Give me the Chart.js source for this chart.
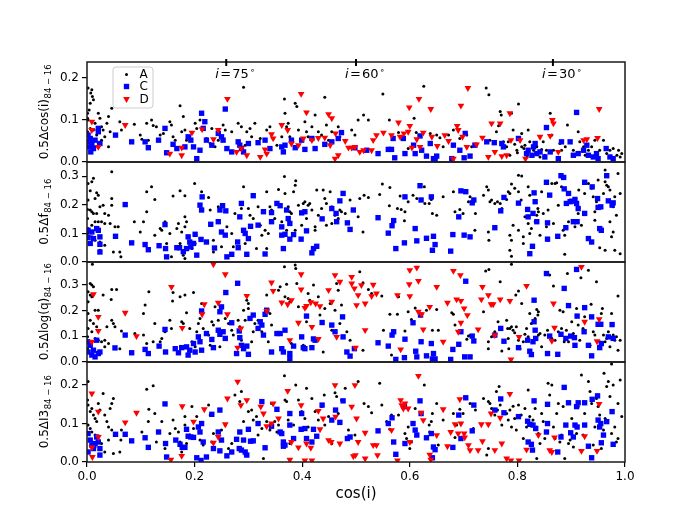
<!DOCTYPE html>
<html>
<head>
<meta charset="utf-8">
<script src="https://cdn.jsdelivr.net/npm/chart.js@4.4.1/dist/chart.umd.min.js"></script>
<style>
html,body{margin:0;padding:0;background:#fff;}
canvas{display:block;}
</style>
</head>
<body>
<canvas id="c" width="692" height="519"></canvas>
<script>
// ---------- DATA ----------
const seriesNames = ['A', 'C', 'D'];
const xTicks = [0.0, 0.2, 0.4, 0.6, 0.8, 1.0];
const yMax = [0.238, 0.35, 0.39, 0.26];
const yTitleMain = ['0.5Δcos(i)', '0.5Δf', '0.5Δlog(q)', '0.5ΔI3'];
const yTitleSub = '84 − 16';
const incAngles = [75, 60, 30];

// Panel 1: 0.5Δcos(i)
const cosA = [[0.002,0.176],[0.009,0.172],[0.007,0.164],[0.010,0.156],[0.012,0.148],[0.006,0.140],[0.004,0.124],[0.001,0.116],[0.001,0.104],[0.002,0.100],[0.009,0.096],[0.015,0.092],[0.021,0.116],[0.024,0.104],[0.027,0.084],[0.030,0.076],[0.033,0.060],[0.037,0.092],[0.040,0.108],[0.046,0.128],[0.043,0.072],[0.027,0.052],[0.021,0.044],[0.015,0.036],[0.040,0.036],[0.018,0.064],[0.012,0.076],[0.006,0.080],[0.001,0.072],[0.001,0.052],[0.061,0.096],[0.064,0.076],[0.088,0.090],[0.099,0.064],[0.102,0.054],[0.111,0.092],[0.114,0.052],[0.120,0.100],[0.123,0.087],[0.129,0.084],[0.136,0.064],[0.142,0.068],[0.154,0.096],[0.157,0.088],[0.160,0.060],[0.164,0.052],[0.173,0.134],[0.176,0.072],[0.182,0.076],[0.179,0.108],[0.185,0.052],[0.191,0.060],[0.201,0.092],[0.204,0.080],[0.210,0.100],[0.219,0.096],[0.222,0.056],[0.229,0.044],[0.232,0.080],[0.238,0.036],[0.244,0.052],[0.250,0.060],[0.253,0.088],[0.257,0.076],[0.269,0.072],[0.281,0.092],[0.287,0.084],[0.291,0.178],[0.294,0.040],[0.297,0.072],[0.303,0.080],[0.306,0.060],[0.312,0.092],[0.322,0.056],[0.334,0.076],[0.340,0.084],[0.346,0.056],[0.353,0.040],[0.362,0.060],[0.367,0.150],[0.368,0.116],[0.371,0.084],[0.374,0.092],[0.377,0.060],[0.387,0.140],[0.390,0.132],[0.393,0.076],[0.405,0.096],[0.408,0.072],[0.411,0.060],[0.418,0.084],[0.424,0.112],[0.430,0.072],[0.436,0.064],[0.442,0.154],[0.445,0.088],[0.449,0.052],[0.455,0.072],[0.467,0.084],[0.470,0.060],[0.480,0.052],[0.492,0.076],[0.498,0.064],[0.504,0.100],
[0.514,0.112],[0.523,0.100],[0.550,0.162],[0.562,0.100],[0.579,0.070],[0.585,0.056],[0.597,0.032],[0.608,0.104],[0.612,0.070],[0.626,0.180],[0.638,0.068],[0.650,0.064],[0.656,0.058],[0.662,0.036],[0.672,0.064],[0.681,0.076],[0.693,0.056],[0.706,0.064],[0.715,0.036],[0.724,0.042],[0.742,0.176],[0.747,0.160],[0.749,0.052],[0.761,0.072],[0.765,0.086],[0.768,0.120],[0.770,0.112],[0.774,0.048],[0.780,0.036],[0.789,0.116],[0.792,0.076],[0.783,0.048],[0.802,0.138],[0.808,0.068],[0.786,0.016],[0.799,0.028],[0.808,0.036],[0.814,0.040],[0.820,0.076],[0.823,0.048],[0.830,0.028],[0.836,0.036],[0.842,0.012],[0.848,0.048],[0.851,0.016],[0.854,0.028],[0.861,0.116],[0.864,0.064],[0.867,0.028],[0.879,0.044],[0.882,0.028],[0.889,0.036],[0.893,0.088],[0.904,0.028],[0.913,0.072],[0.916,0.048],[0.923,0.036],[0.926,0.016],[0.932,0.028],[0.938,0.036],[0.944,0.052],[0.953,0.028],[0.960,0.052],[0.966,0.020],[0.972,0.028],[0.978,0.032],[0.985,0.016],[0.988,0.028],[0.991,0.012],[0.994,0.020],[0.800,0.022],[0.812,0.032],[0.818,0.012],[0.795,0.042],[0.845,0.030]];
const cosC = [[0.002,0.064],[0.006,0.056],[0.001,0.048],[0.009,0.044],[0.004,0.036],[0.012,0.032],[0.015,0.052],[0.021,0.072],[0.024,0.044],[0.007,0.024],[0.021,0.080],[0.053,0.064],[0.083,0.048],[0.108,0.048],[0.114,0.034],[0.133,0.052],[0.145,0.080],[0.148,0.022],[0.160,0.042],[0.167,0.032],[0.182,0.036],[0.188,0.060],[0.193,0.052],[0.198,0.036],[0.204,0.008],[0.210,0.028],[0.213,0.116],[0.219,0.096],[0.216,0.080],[0.222,0.052],[0.232,0.040],[0.244,0.068],[0.250,0.060],[0.257,0.126],[0.253,0.052],[0.260,0.032],[0.269,0.024],[0.281,0.048],[0.284,0.040],[0.287,0.032],[0.291,0.024],[0.300,0.044],[0.318,0.046],[0.331,0.052],[0.340,0.032],[0.362,0.036],[0.365,0.024],[0.368,0.040],[0.380,0.052],[0.387,0.034],[0.399,0.052],[0.405,0.030],[0.418,0.056],[0.424,0.032],[0.442,0.042],[0.455,0.048],[0.467,0.056],[0.473,0.070],[0.498,0.034],
[0.520,0.028],[0.541,0.020],[0.560,0.030],[0.566,0.030],[0.569,0.056],[0.572,0.010],[0.588,0.056],[0.591,0.020],[0.607,0.040],[0.610,0.020],[0.619,0.062],[0.622,0.028],[0.631,0.014],[0.638,0.044],[0.644,0.008],[0.647,0.006],[0.650,0.014],[0.678,0.008],[0.681,0.040],[0.693,0.028],[0.703,0.068],[0.701,0.010],[0.712,0.014],[0.721,0.040],[0.743,0.048],[0.757,0.046],[0.771,0.044],[0.774,0.036],[0.802,0.056],[0.817,0.020],[0.820,0.028],[0.827,0.016],[0.830,0.036],[0.833,0.044],[0.836,0.020],[0.842,0.024],[0.854,0.082],[0.851,0.012],[0.861,0.024],[0.876,0.008],[0.882,0.048],[0.898,0.048],[0.910,0.118],[0.904,0.016],[0.913,0.020],[0.923,0.028],[0.929,0.040],[0.932,0.016],[0.941,0.012],[0.947,0.020],[0.950,0.008],[0.965,0.032],[0.972,0.012],[0.978,0.008]];
const cosD = [[0.009,0.096],[0.009,0.076],[0.021,0.036],[0.071,0.088],[0.154,0.020],[0.176,0.034],[0.176,0.016],[0.195,0.070],[0.214,0.078],[0.235,0.054],[0.244,0.076],[0.261,0.150],[0.278,0.024],[0.287,0.032],[0.297,0.016],[0.322,0.012],[0.331,0.030],[0.334,0.020],[0.343,0.066],[0.346,0.056],[0.362,0.088],[0.373,0.076],[0.380,0.044],[0.393,0.040],[0.398,0.162],[0.402,0.056],[0.408,0.118],[0.418,0.052],[0.430,0.057],[0.442,0.058],[0.449,0.114],[0.452,0.040],[0.455,0.104],[0.462,0.068],[0.461,0.008],[0.467,0.016],[0.480,0.050],[0.486,0.034],[0.492,0.034],[0.498,0.036],
[0.507,0.024],[0.514,0.028],[0.529,0.028],[0.532,0.052],[0.538,0.064],[0.551,0.070],[0.566,0.064],[0.579,0.094],[0.582,0.060],[0.589,0.068],[0.599,0.130],[0.600,0.086],[0.597,0.072],[0.604,0.034],[0.613,0.054],[0.617,0.150],[0.619,0.036],[0.625,0.070],[0.639,0.126],[0.641,0.060],[0.651,0.038],[0.665,0.064],[0.672,0.050],[0.681,0.008],[0.688,0.086],[0.690,0.076],[0.695,0.134],[0.698,0.060],[0.706,0.036],[0.708,0.176],[0.724,0.042],[0.735,0.058],[0.746,0.012],[0.752,0.092],[0.758,0.024],[0.768,0.092],[0.771,0.014],[0.780,0.016],[0.786,0.116],[0.788,0.052],[0.805,0.052],[0.815,0.008],[0.842,0.060],[0.861,0.062],[0.865,0.100],[0.867,0.092],[0.876,0.024],[0.923,0.052],[0.929,0.054],[0.949,0.057],[0.952,0.126]];

// Panel 2: 0.5Δf (no D points)
const fA = [[0.002,0.275],[0.009,0.281],[0.012,0.293],[0.006,0.249],[0.018,0.242],[0.021,0.234],[0.015,0.222],[0.002,0.217],[0.001,0.184],[0.006,0.182],[0.009,0.176],[0.012,0.170],[0.018,0.170],[0.024,0.193],[0.030,0.199],[0.033,0.170],[0.040,0.164],[0.046,0.199],[0.046,0.222],[0.043,0.135],[0.052,0.123],[0.058,0.123],[0.001,0.152],[0.015,0.141],[0.021,0.141],[0.027,0.141],[0.033,0.135],[0.009,0.129],[0.002,0.117],[0.001,0.100],[0.009,0.088],[0.015,0.076],[0.024,0.070],[0.033,0.059],[0.024,0.041],[0.049,0.035],[0.061,0.035],[0.063,0.018],[0.046,0.316],[0.088,0.141],[0.099,0.105],[0.105,0.141],[0.111,0.176],[0.111,0.246],[0.120,0.263],[0.126,0.219],[0.126,0.094],[0.136,0.117],[0.139,0.111],[0.145,0.141],[0.148,0.065],[0.154,0.100],[0.160,0.231],[0.167,0.117],[0.170,0.135],[0.173,0.249],[0.176,0.105],[0.182,0.158],[0.182,0.123],[0.185,0.141],[0.182,0.232],[0.157,0.018],[0.167,0.053],[0.173,0.065],[0.179,0.024],[0.182,0.012],[0.195,0.047],[0.201,0.065],[0.200,0.275],[0.210,0.082],[0.213,0.246],[0.226,0.226],[0.229,0.182],[0.235,0.076],[0.235,0.035],[0.244,0.193],[0.250,0.053],[0.260,0.123],[0.269,0.100],[0.272,0.053],[0.275,0.170],[0.287,0.187],[0.291,0.263],[0.294,0.065],[0.300,0.187],[0.303,0.164],[0.309,0.152],[0.318,0.193],[0.315,0.047],[0.322,0.129],[0.325,0.094],[0.331,0.111],[0.334,0.246],[0.337,0.100],[0.334,0.047],[0.340,0.193],[0.343,0.182],[0.349,0.152],[0.356,0.254],[0.362,0.141],[0.367,0.299],[0.368,0.240],[0.371,0.111],[0.374,0.193],[0.377,0.176],[0.380,0.170],[0.384,0.246],[0.387,0.269],[0.388,0.284],[0.393,0.199],[0.402,0.205],[0.405,0.211],[0.408,0.152],[0.411,0.199],[0.414,0.205],[0.418,0.182],[0.427,0.252],[0.424,0.123],[0.430,0.164],[0.436,0.187],[0.439,0.252],[0.442,0.222],[0.445,0.205],[0.452,0.246],[0.455,0.193],[0.461,0.164],[0.467,0.152],[0.470,0.182],[0.473,0.176],[0.480,0.170],[0.489,0.217],[0.504,0.158],[0.455,0.135],[0.445,0.129],[0.424,0.111],[0.387,0.111],[0.399,0.129],
[0.507,0.222],[0.515,0.234],[0.523,0.226],[0.513,0.105],[0.544,0.236],[0.549,0.273],[0.563,0.261],[0.562,0.197],[0.577,0.187],[0.584,0.184],[0.591,0.176],[0.590,0.144],[0.582,0.231],[0.597,0.211],[0.606,0.234],[0.613,0.222],[0.627,0.263],[0.628,0.205],[0.636,0.205],[0.640,0.219],[0.642,0.170],[0.650,0.164],[0.662,0.228],[0.681,0.246],[0.684,0.176],[0.693,0.184],[0.699,0.170],[0.709,0.211],[0.712,0.228],[0.722,0.170],[0.721,0.111],[0.737,0.234],[0.743,0.263],[0.746,0.252],[0.749,0.211],[0.746,0.105],[0.747,0.076],[0.752,0.217],[0.758,0.205],[0.763,0.211],[0.768,0.205],[0.771,0.187],[0.780,0.219],[0.783,0.246],[0.786,0.240],[0.789,0.273],[0.795,0.258],[0.792,0.129],[0.786,0.094],[0.789,0.076],[0.786,0.041],[0.789,0.020],[0.802,0.304],[0.808,0.301],[0.802,0.246],[0.807,0.217],[0.802,0.111],[0.811,0.088],[0.811,0.065],[0.814,0.158],[0.820,0.263],[0.823,0.234],[0.820,0.135],[0.823,0.100],[0.826,0.117],[0.833,0.141],[0.836,0.164],[0.838,0.187],[0.839,0.176],[0.842,0.094],[0.845,0.246],[0.848,0.170],[0.854,0.123],[0.857,0.182],[0.857,0.076],[0.864,0.275],[0.867,0.135],[0.870,0.275],[0.873,0.277],[0.876,0.199],[0.882,0.263],[0.885,0.111],[0.888,0.094],[0.888,0.027],[0.895,0.141],[0.901,0.211],[0.904,0.141],[0.907,0.123],[0.910,0.141],[0.913,0.170],[0.914,0.252],[0.919,0.129],[0.925,0.240],[0.932,0.275],[0.938,0.258],[0.941,0.228],[0.944,0.176],[0.944,0.146],[0.947,0.211],[0.950,0.287],[0.953,0.050],[0.960,0.240],[0.963,0.041],[0.963,0.281],[0.966,0.269],[0.969,0.263],[0.972,0.252],[0.978,0.193],[0.981,0.228],[0.981,0.041],[0.984,0.164],[0.987,0.310],[0.991,0.240],[0.991,0.029],[0.978,0.105],[0.975,0.088],[0.972,0.141],[0.963,0.322]];
const fC = [[0.002,0.111],[0.009,0.105],[0.018,0.117],[0.021,0.111],[0.002,0.086],[0.012,0.082],[0.024,0.088],[0.006,0.065],[0.024,0.062],[0.024,0.035],[0.071,0.201],[0.053,0.090],[0.083,0.067],[0.108,0.061],[0.114,0.043],[0.134,0.057],[0.145,0.131],[0.146,0.047],[0.148,0.018],[0.167,0.050],[0.172,0.050],[0.179,0.036],[0.185,0.047],[0.188,0.088],[0.191,0.070],[0.193,0.053],[0.201,0.097],[0.198,0.065],[0.204,0.024],[0.212,0.079],[0.213,0.182],[0.210,0.199],[0.214,0.228],[0.222,0.070],[0.230,0.132],[0.237,0.049],[0.244,0.141],[0.247,0.182],[0.250,0.105],[0.252,0.197],[0.257,0.094],[0.260,0.018],[0.258,0.179],[0.269,0.027],[0.280,0.070],[0.281,0.050],[0.284,0.158],[0.287,0.205],[0.291,0.111],[0.294,0.100],[0.297,0.027],[0.300,0.082],[0.304,0.125],[0.309,0.232],[0.318,0.129],[0.328,0.176],[0.331,0.028],[0.343,0.141],[0.343,0.173],[0.353,0.205],[0.359,0.197],[0.362,0.094],[0.362,0.123],[0.365,0.047],[0.368,0.097],[0.371,0.182],[0.374,0.152],[0.377,0.135],[0.384,0.096],[0.399,0.172],[0.405,0.176],[0.408,0.109],[0.418,0.032],[0.421,0.047],[0.427,0.055],[0.437,0.151],[0.455,0.187],[0.464,0.141],[0.463,0.170],[0.470,0.214],[0.476,0.240],[0.484,0.137],[0.489,0.114],[0.495,0.182],[0.398,0.080],[0.377,0.080],
[0.541,0.155],[0.560,0.101],[0.567,0.127],[0.570,0.145],[0.574,0.047],[0.590,0.067],[0.591,0.228],[0.610,0.117],[0.613,0.074],[0.619,0.267],[0.621,0.217],[0.631,0.083],[0.640,0.228],[0.644,0.090],[0.647,0.061],[0.642,0.041],[0.676,0.038],[0.680,0.096],[0.691,0.158],[0.695,0.249],[0.704,0.246],[0.701,0.094],[0.712,0.088],[0.716,0.207],[0.719,0.217],[0.758,0.120],[0.769,0.179],[0.775,0.226],[0.802,0.206],[0.819,0.184],[0.820,0.158],[0.823,0.029],[0.828,0.055],[0.829,0.170],[0.831,0.242],[0.833,0.211],[0.836,0.141],[0.856,0.137],[0.856,0.080],[0.854,0.279],[0.860,0.234],[0.875,0.090],[0.881,0.302],[0.886,0.296],[0.887,0.256],[0.890,0.120],[0.895,0.240],[0.891,0.205],[0.898,0.211],[0.901,0.213],[0.904,0.141],[0.907,0.219],[0.910,0.205],[0.911,0.141],[0.913,0.187],[0.925,0.279],[0.925,0.170],[0.932,0.082],[0.938,0.070],[0.939,0.263],[0.949,0.222],[0.950,0.191],[0.953,0.117],[0.955,0.193],[0.956,0.111],[0.966,0.302],[0.969,0.214],[0.976,0.199],[0.978,0.207]];

// Panel 3: 0.5Δlog(q)
const logqA = [[0.010,0.381],[0.006,0.306],[0.009,0.300],[0.012,0.293],[0.002,0.274],[0.006,0.261],[0.009,0.254],[0.002,0.235],[0.015,0.202],[0.021,0.202],[0.002,0.189],[0.006,0.163],[0.012,0.150],[0.018,0.137],[0.009,0.118],[0.002,0.131],[0.001,0.098],[0.015,0.092],[0.021,0.085],[0.027,0.079],[0.033,0.085],[0.040,0.072],[0.030,0.261],[0.037,0.137],[0.045,0.244],[0.046,0.283],[0.055,0.283],[0.049,0.150],[0.052,0.137],[0.046,0.163],[0.033,0.059],[0.001,0.052],[0.061,0.052],[0.064,0.121],[0.089,0.111],[0.105,0.189],[0.108,0.222],[0.105,0.105],[0.111,0.072],[0.115,0.274],[0.123,0.079],[0.126,0.150],[0.136,0.079],[0.139,0.092],[0.145,0.118],[0.154,0.163],[0.157,0.131],[0.160,0.271],[0.159,0.238],[0.173,0.254],[0.176,0.157],[0.179,0.150],[0.182,0.261],[0.185,0.192],[0.191,0.131],[0.198,0.271],[0.195,0.079],[0.201,0.059],[0.204,0.118],[0.207,0.150],[0.210,0.170],[0.213,0.228],[0.216,0.131],[0.226,0.105],[0.229,0.065],[0.232,0.157],[0.235,0.144],[0.238,0.215],[0.244,0.163],[0.247,0.059],[0.257,0.170],[0.263,0.150],[0.269,0.124],[0.272,0.105],[0.281,0.163],[0.284,0.137],[0.287,0.085],[0.291,0.202],[0.294,0.163],[0.297,0.241],[0.300,0.228],[0.300,0.209],[0.306,0.079],[0.309,0.118],[0.312,0.150],[0.318,0.163],[0.325,0.118],[0.334,0.261],[0.337,0.079],[0.340,0.189],[0.343,0.144],[0.356,0.280],[0.359,0.293],[0.362,0.052],[0.367,0.371],[0.368,0.254],[0.371,0.303],[0.374,0.248],[0.377,0.235],[0.380,0.072],[0.387,0.378],[0.388,0.365],[0.390,0.306],[0.393,0.215],[0.402,0.065],[0.408,0.157],[0.411,0.267],[0.414,0.241],[0.421,0.300],[0.424,0.228],[0.430,0.254],[0.433,0.183],[0.439,0.039],[0.442,0.209],[0.452,0.228],[0.461,0.202],[0.464,0.306],[0.467,0.280],[0.470,0.150],[0.473,0.222],[0.483,0.118],[0.489,0.085],[0.473,0.176],[0.455,0.124],
[0.507,0.352],[0.513,0.309],[0.523,0.283],[0.529,0.267],[0.548,0.257],[0.513,0.046],[0.551,0.124],[0.563,0.186],[0.566,0.027],[0.577,0.186],[0.579,0.254],[0.591,0.121],[0.597,0.196],[0.603,0.166],[0.610,0.211],[0.619,0.186],[0.631,0.202],[0.642,0.124],[0.650,0.205],[0.653,0.124],[0.678,0.192],[0.681,0.186],[0.684,0.144],[0.706,0.089],[0.709,0.101],[0.712,0.103],[0.737,0.196],[0.741,0.355],[0.746,0.079],[0.747,0.361],[0.746,0.052],[0.752,0.098],[0.758,0.118],[0.764,0.157],[0.768,0.313],[0.771,0.043],[0.780,0.163],[0.782,0.131],[0.783,0.092],[0.784,0.052],[0.786,0.131],[0.789,0.137],[0.789,0.381],[0.792,0.124],[0.795,0.114],[0.797,0.261],[0.798,0.137],[0.802,0.277],[0.802,0.085],[0.805,0.052],[0.808,0.228],[0.811,0.079],[0.814,0.108],[0.817,0.131],[0.820,0.098],[0.823,0.189],[0.823,0.046],[0.826,0.150],[0.829,0.079],[0.833,0.170],[0.836,0.205],[0.838,0.183],[0.839,0.196],[0.839,0.105],[0.842,0.111],[0.845,0.059],[0.851,0.105],[0.856,0.124],[0.860,0.339],[0.864,0.092],[0.867,0.296],[0.870,0.085],[0.876,0.118],[0.879,0.202],[0.882,0.131],[0.885,0.196],[0.887,0.079],[0.891,0.124],[0.893,0.345],[0.895,0.079],[0.901,0.157],[0.904,0.111],[0.907,0.098],[0.910,0.209],[0.913,0.144],[0.916,0.085],[0.918,0.329],[0.922,0.131],[0.925,0.176],[0.932,0.358],[0.935,0.065],[0.937,0.225],[0.941,0.118],[0.944,0.105],[0.947,0.313],[0.950,0.144],[0.953,0.079],[0.956,0.189],[0.958,0.209],[0.960,0.105],[0.963,0.079],[0.966,0.092],[0.969,0.118],[0.972,0.059],[0.975,0.189],[0.978,0.105],[0.981,0.085],[0.984,0.098],[0.987,0.257],[0.991,0.085],[0.987,0.046]];
const logqC = [[0.001,0.079],[0.006,0.065],[0.012,0.046],[0.018,0.085],[0.009,0.027],[0.021,0.033],[0.002,0.039],[0.015,0.020],[0.024,0.039],[0.052,0.055],[0.071,0.105],[0.083,0.036],[0.108,0.049],[0.114,0.033],[0.134,0.062],[0.145,0.127],[0.146,0.039],[0.164,0.052],[0.170,0.036],[0.176,0.056],[0.185,0.059],[0.188,0.027],[0.191,0.046],[0.198,0.072],[0.201,0.039],[0.207,0.098],[0.210,0.079],[0.213,0.199],[0.213,0.046],[0.222,0.111],[0.232,0.088],[0.235,0.056],[0.244,0.124],[0.247,0.196],[0.250,0.215],[0.247,0.108],[0.253,0.118],[0.257,0.092],[0.258,0.271],[0.269,0.153],[0.278,0.033],[0.280,0.307],[0.283,0.121],[0.284,0.095],[0.287,0.065],[0.291,0.052],[0.297,0.062],[0.300,0.030],[0.303,0.170],[0.309,0.183],[0.318,0.131],[0.322,0.157],[0.325,0.144],[0.328,0.105],[0.331,0.186],[0.334,0.202],[0.343,0.039],[0.353,0.111],[0.359,0.111],[0.362,0.052],[0.365,0.039],[0.368,0.124],[0.377,0.014],[0.377,0.033],[0.384,0.062],[0.399,0.098],[0.402,0.056],[0.405,0.052],[0.408,0.179],[0.418,0.056],[0.421,0.090],[0.424,0.085],[0.437,0.154],[0.455,0.144],[0.461,0.118],[0.475,0.176],[0.476,0.098],[0.483,0.039],[0.489,0.023],[0.497,0.052],
[0.541,0.075],[0.560,0.062],[0.567,0.105],[0.570,0.118],[0.574,0.010],[0.590,0.017],[0.591,0.089],[0.606,0.153],[0.611,0.042],[0.613,0.020],[0.620,0.183],[0.621,0.079],[0.631,0.024],[0.640,0.072],[0.644,0.033],[0.647,0.012],[0.642,0.012],[0.676,0.010],[0.680,0.049],[0.691,0.069],[0.695,0.118],[0.704,0.315],[0.702,0.020],[0.712,0.020],[0.716,0.101],[0.719,0.082],[0.758,0.105],[0.769,0.131],[0.775,0.081],[0.802,0.056],[0.819,0.085],[0.823,0.042],[0.826,0.029],[0.829,0.079],[0.831,0.157],[0.831,0.241],[0.834,0.092],[0.833,0.124],[0.854,0.345],[0.856,0.033],[0.860,0.101],[0.875,0.030],[0.881,0.108],[0.887,0.287],[0.890,0.092],[0.895,0.220],[0.899,0.101],[0.906,0.095],[0.910,0.361],[0.907,0.065],[0.911,0.179],[0.924,0.118],[0.925,0.212],[0.932,0.065],[0.938,0.176],[0.938,0.024],[0.950,0.147],[0.955,0.147],[0.956,0.072],[0.953,0.056],[0.969,0.098],[0.976,0.146],[0.978,0.092]];
const logqD = [[0.009,0.079],[0.012,0.264],[0.021,0.176],[0.021,0.121],[0.071,0.192],[0.092,0.101],[0.157,0.293],[0.177,0.133],[0.218,0.225],[0.214,0.186],[0.235,0.381],[0.244,0.231],[0.257,0.342],[0.261,0.186],[0.280,0.056],[0.286,0.131],[0.297,0.258],[0.334,0.199],[0.343,0.310],[0.346,0.277],[0.362,0.232],[0.373,0.225],[0.377,0.085],[0.380,0.241],[0.393,0.153],[0.398,0.342],[0.398,0.283],[0.405,0.211],[0.408,0.219],[0.416,0.233],[0.418,0.137],[0.425,0.228],[0.430,0.090],[0.433,0.218],[0.449,0.280],[0.455,0.235],[0.461,0.339],[0.464,0.098],[0.470,0.313],[0.492,0.332],[0.492,0.306],[0.497,0.287],[0.499,0.056],[0.501,0.222],[0.504,0.261],
[0.510,0.300],[0.517,0.228],[0.517,0.124],[0.529,0.257],[0.532,0.301],[0.538,0.267],[0.577,0.261],[0.583,0.049],[0.600,0.358],[0.599,0.303],[0.600,0.257],[0.613,0.368],[0.616,0.316],[0.616,0.196],[0.622,0.186],[0.625,0.127],[0.637,0.215],[0.650,0.293],[0.662,0.079],[0.670,0.231],[0.681,0.355],[0.687,0.244],[0.690,0.118],[0.694,0.339],[0.695,0.238],[0.695,0.153],[0.701,0.209],[0.707,0.183],[0.727,0.127],[0.735,0.293],[0.733,0.244],[0.746,0.261],[0.751,0.225],[0.755,0.225],[0.758,0.105],[0.768,0.244],[0.786,0.238],[0.788,0.010],[0.803,0.098],[0.817,0.297],[0.867,0.228],[0.869,0.134],[0.864,0.082],[0.919,0.371],[0.925,0.157],[0.952,0.167],[0.948,0.081]];

// Panel 4: 0.5ΔI3
const i3A = [[0.002,0.209],[0.001,0.161],[0.002,0.148],[0.009,0.139],[0.006,0.131],[0.012,0.122],[0.015,0.113],[0.018,0.105],[0.002,0.096],[0.006,0.087],[0.009,0.078],[0.015,0.070],[0.021,0.152],[0.024,0.135],[0.030,0.178],[0.033,0.122],[0.037,0.105],[0.040,0.091],[0.043,0.139],[0.046,0.152],[0.049,0.165],[0.046,0.083],[0.052,0.070],[0.040,0.057],[0.027,0.048],[0.015,0.039],[0.033,0.026],[0.049,0.022],[0.061,0.026],[0.063,0.057],[0.064,0.083],[0.102,0.078],[0.111,0.189],[0.114,0.105],[0.115,0.137],[0.123,0.198],[0.126,0.126],[0.129,0.052],[0.139,0.105],[0.145,0.035],[0.148,0.013],[0.154,0.074],[0.160,0.109],[0.164,0.087],[0.170,0.078],[0.173,0.052],[0.176,0.026],[0.182,0.118],[0.182,0.096],[0.185,0.048],[0.191,0.070],[0.195,0.144],[0.198,0.087],[0.204,0.118],[0.210,0.057],[0.216,0.044],[0.226,0.148],[0.229,0.122],[0.232,0.052],[0.235,0.074],[0.244,0.078],[0.250,0.083],[0.257,0.096],[0.263,0.035],[0.269,0.048],[0.275,0.174],[0.284,0.157],[0.287,0.183],[0.291,0.105],[0.294,0.018],[0.300,0.131],[0.306,0.135],[0.309,0.109],[0.315,0.118],[0.318,0.070],[0.325,0.087],[0.328,0.009],[0.331,0.039],[0.334,0.105],[0.340,0.083],[0.343,0.152],[0.349,0.105],[0.353,0.078],[0.356,0.096],[0.367,0.224],[0.368,0.161],[0.371,0.157],[0.374,0.109],[0.377,0.048],[0.384,0.096],[0.388,0.200],[0.393,0.161],[0.399,0.131],[0.405,0.113],[0.408,0.192],[0.411,0.091],[0.418,0.165],[0.424,0.131],[0.430,0.109],[0.436,0.144],[0.441,0.174],[0.442,0.096],[0.449,0.118],[0.455,0.048],[0.461,0.180],[0.464,0.170],[0.467,0.126],[0.473,0.161],[0.480,0.192],[0.486,0.083],[0.492,0.144],[0.498,0.070],[0.504,0.209],
[0.515,0.152],[0.523,0.144],[0.529,0.128],[0.544,0.205],[0.548,0.148],[0.557,0.105],[0.563,0.085],[0.566,0.122],[0.577,0.004],[0.579,0.122],[0.591,0.074],[0.594,0.061],[0.597,0.091],[0.600,0.035],[0.603,0.052],[0.610,0.139],[0.627,0.200],[0.636,0.096],[0.637,0.078],[0.640,0.105],[0.642,0.126],[0.650,0.152],[0.653,0.044],[0.662,0.109],[0.681,0.126],[0.684,0.064],[0.687,0.096],[0.693,0.137],[0.699,0.126],[0.712,0.152],[0.718,0.087],[0.722,0.135],[0.737,0.165],[0.743,0.018],[0.746,0.035],[0.746,0.157],[0.749,0.152],[0.752,0.139],[0.758,0.122],[0.761,0.183],[0.763,0.135],[0.766,0.196],[0.768,0.148],[0.771,0.096],[0.780,0.126],[0.783,0.109],[0.786,0.135],[0.789,0.091],[0.792,0.145],[0.795,0.113],[0.798,0.083],[0.802,0.148],[0.807,0.122],[0.811,0.061],[0.814,0.139],[0.817,0.091],[0.820,0.187],[0.820,0.052],[0.823,0.118],[0.826,0.100],[0.829,0.109],[0.833,0.139],[0.836,0.091],[0.836,0.009],[0.839,0.074],[0.842,0.048],[0.845,0.126],[0.848,0.105],[0.851,0.061],[0.857,0.205],[0.860,0.174],[0.864,0.200],[0.867,0.091],[0.870,0.061],[0.873,0.126],[0.876,0.152],[0.879,0.052],[0.882,0.070],[0.885,0.144],[0.888,0.009],[0.891,0.096],[0.895,0.048],[0.898,0.057],[0.901,0.113],[0.904,0.039],[0.907,0.096],[0.910,0.074],[0.913,0.144],[0.919,0.226],[0.922,0.070],[0.925,0.126],[0.932,0.209],[0.935,0.183],[0.938,0.152],[0.941,0.044],[0.944,0.091],[0.947,0.165],[0.950,0.144],[0.953,0.122],[0.956,0.035],[0.960,0.083],[0.961,0.231],[0.963,0.113],[0.966,0.196],[0.969,0.209],[0.972,0.170],[0.975,0.255],[0.975,0.074],[0.978,0.200],[0.981,0.091],[0.984,0.052],[0.987,0.061],[0.991,0.213],[0.987,0.152],[0.994,0.118]];
const i3C = [[0.002,0.074],[0.006,0.057],[0.009,0.044],[0.012,0.035],[0.002,0.026],[0.015,0.048],[0.018,0.065],[0.021,0.052],[0.024,0.035],[0.024,0.018],[0.053,0.072],[0.071,0.072],[0.083,0.055],[0.108,0.063],[0.114,0.038],[0.133,0.078],[0.145,0.151],[0.146,0.048],[0.148,0.013],[0.165,0.057],[0.173,0.046],[0.177,0.038],[0.182,0.038],[0.185,0.085],[0.188,0.067],[0.193,0.065],[0.198,0.064],[0.204,0.011],[0.207,0.091],[0.210,0.078],[0.213,0.100],[0.212,0.004],[0.216,0.052],[0.222,0.013],[0.232,0.124],[0.235,0.035],[0.244,0.078],[0.247,0.135],[0.250,0.057],[0.247,0.029],[0.260,0.016],[0.269,0.026],[0.278,0.059],[0.283,0.035],[0.284,0.078],[0.287,0.031],[0.291,0.057],[0.294,0.026],[0.297,0.018],[0.300,0.085],[0.304,0.054],[0.309,0.055],[0.318,0.100],[0.325,0.157],[0.331,0.037],[0.343,0.093],[0.353,0.137],[0.359,0.078],[0.362,0.074],[0.365,0.052],[0.368,0.044],[0.365,0.041],[0.377,0.126],[0.377,0.096],[0.384,0.061],[0.398,0.085],[0.399,0.126],[0.405,0.087],[0.408,0.061],[0.418,0.052],[0.421,0.085],[0.427,0.067],[0.437,0.148],[0.455,0.109],[0.462,0.135],[0.470,0.103],[0.476,0.159],[0.484,0.061],[0.489,0.065],
[0.541,0.081],[0.560,0.100],[0.567,0.115],[0.570,0.052],[0.574,0.020],[0.590,0.144],[0.591,0.048],[0.606,0.100],[0.610,0.083],[0.613,0.070],[0.621,0.126],[0.619,0.159],[0.631,0.063],[0.640,0.074],[0.644,0.039],[0.647,0.032],[0.642,0.011],[0.680,0.038],[0.691,0.122],[0.695,0.061],[0.704,0.167],[0.716,0.081],[0.719,0.148],[0.758,0.135],[0.769,0.164],[0.775,0.128],[0.802,0.118],[0.819,0.106],[0.820,0.052],[0.823,0.098],[0.826,0.046],[0.828,0.031],[0.829,0.096],[0.831,0.159],[0.834,0.087],[0.854,0.078],[0.856,0.150],[0.856,0.100],[0.875,0.026],[0.881,0.065],[0.887,0.194],[0.890,0.096],[0.895,0.154],[0.899,0.076],[0.904,0.065],[0.907,0.096],[0.910,0.144],[0.911,0.091],[0.913,0.154],[0.925,0.096],[0.925,0.154],[0.932,0.041],[0.938,0.011],[0.939,0.163],[0.949,0.172],[0.950,0.109],[0.953,0.091],[0.955,0.100],[0.956,0.050],[0.960,0.070],[0.966,0.105],[0.976,0.131],[0.978,0.046]];
const i3D = [[0.009,0.178],[0.021,0.131],[0.021,0.065],[0.009,0.038],[0.010,0.013],[0.071,0.103],[0.092,0.128],[0.156,0.006],[0.176,0.016],[0.177,0.145],[0.198,0.105],[0.218,0.137],[0.235,0.050],[0.244,0.065],[0.257,0.098],[0.261,0.165],[0.280,0.209],[0.286,0.148],[0.297,0.161],[0.323,0.144],[0.328,0.126],[0.334,0.093],[0.343,0.100],[0.346,0.152],[0.356,0.113],[0.373,0.185],[0.377,0.006],[0.380,0.052],[0.393,0.038],[0.398,0.148],[0.405,0.004],[0.408,0.048],[0.418,0.004],[0.416,0.037],[0.430,0.133],[0.433,0.085],[0.439,0.113],[0.449,0.057],[0.454,0.052],[0.461,0.200],[0.470,0.048],[0.462,0.118],[0.492,0.144],[0.495,0.015],[0.498,0.200],[0.499,0.018],[0.501,0.113],[0.504,0.052],
[0.517,0.076],[0.517,0.009],[0.532,0.044],[0.538,0.044],[0.540,0.018],[0.566,0.083],[0.577,0.004],[0.583,0.161],[0.585,0.148],[0.588,0.139],[0.591,0.152],[0.597,0.139],[0.600,0.052],[0.616,0.224],[0.621,0.128],[0.625,0.109],[0.637,0.019],[0.639,0.006],[0.650,0.070],[0.662,0.137],[0.670,0.041],[0.676,0.078],[0.684,0.098],[0.693,0.163],[0.695,0.100],[0.690,0.074],[0.701,0.074],[0.702,0.064],[0.709,0.044],[0.712,0.031],[0.727,0.031],[0.735,0.054],[0.733,0.098],[0.746,0.098],[0.751,0.126],[0.758,0.031],[0.768,0.115],[0.771,0.048],[0.780,0.009],[0.786,0.177],[0.788,0.004],[0.803,0.004],[0.817,0.032],[0.839,0.070],[0.860,0.031],[0.869,0.064],[0.864,0.026],[0.919,0.029],[0.925,0.067],[0.952,0.151],[0.948,0.029]];

// ---------- CHART ----------
const panelIds = ['y1', 'y2', 'y3', 'y4'];
const panelSeries = [[cosA, cosC, cosD], [fA, fC, null], [logqA, logqC, logqD], [i3A, i3C, i3D]];
const colors = ['#000000', '#0000ff', '#ff0000'];
const PLOT_TOP = 62, PLOT_LEFT = 87, PLOT_RIGHT = 625;

const styleFor = [
  {pointStyle: 'circle', pointRadius: 1.5, rotation: 0, order: 2},
  {pointStyle: 'rect', pointRadius: 3.8, rotation: 0, order: 1},
  {pointStyle: 'triangle', pointRadius: 3.9, rotation: 180, order: 0}
];

const datasets = [];
panelSeries.forEach((ser, k) => {
  ser.forEach((arr, j) => {
    if (!arr) return;
    const st = styleFor[j];
    datasets.push({
      label: seriesNames[j] + ' ' + panelIds[k],
      data: arr.map(p => ({x: p[0], y: p[1]})),
      yAxisID: panelIds[k],
      xAxisID: 'x',
      backgroundColor: colors[j],
      borderColor: colors[j],
      borderWidth: 0,
      pointStyle: st.pointStyle,
      pointRadius: st.pointRadius,
      pointRotation: st.rotation,
      pointHoverRadius: st.pointRadius,
      order: st.order,
      clip: 0
    });
  });
});

const FONT = '"DejaVu Sans", sans-serif';
Chart.defaults.font.family = FONT;
Chart.defaults.color = '#000';

const scales = {
  x: {
    type: 'linear', position: 'bottom', min: 0, max: 1,
    afterBuildTicks: s => { s.ticks = xTicks.map(v => ({value: v})); },
    ticks: {callback: v => Number(v).toFixed(1), font: {size: 12}, color: '#000', padding: 3, maxRotation: 0},
    grid: {display: true, drawOnChartArea: false, drawTicks: true, tickLength: 5, color: '#000', lineWidth: 1.2},
    border: {display: false},
    title: {display: true, text: 'cos(i)', font: {size: 15}, color: '#000', padding: {top: 0, bottom: 4}},
    afterFit: s => { s.height = 45; }
  }
};
panelIds.forEach((id, k) => {
  scales[id] = {
    type: 'linear', position: 'left', stack: 'panels', stackWeight: 1,
    weight: panelIds.length - k,
    min: 0, max: yMax[k],
    ticks: {stepSize: 0.1, includeBounds: false, callback: v => Number(v).toFixed(1), font: {size: 12}, color: '#000', padding: 3},
    grid: {display: true, drawOnChartArea: false, drawTicks: true, tickLength: 5, color: '#000', lineWidth: 1.2},
    border: {display: false},
    afterFit: s => { s.width = PLOT_LEFT; }
  };
});

const decorPlugin = {
  id: 'decor',
  afterDatasetsDraw(chart) {
    const ctx = chart.ctx, ca = chart.chartArea;
    ctx.save();
    ctx.strokeStyle = '#1a1a1a';
    ctx.lineWidth = 1.5;
    panelIds.forEach(id => {
      const s = chart.scales[id];
      ctx.strokeRect(ca.left, s.top, ca.right - ca.left, s.bottom - s.top);
    });
    // inclination markers on top panel
    const xs = chart.scales.x;
    const top = chart.scales[panelIds[0]].top;
    incAngles.forEach(a => {
      const px = xs.getPixelForValue(Math.cos(a * Math.PI / 180));
      ctx.strokeStyle = '#000';
      ctx.lineWidth = 2;
      ctx.beginPath(); ctx.moveTo(px, top - 3); ctx.lineTo(px, top + 4); ctx.stroke();
      let x = px - 11; const y = top + 16;
      ctx.fillStyle = '#000'; ctx.textAlign = 'left'; ctx.textBaseline = 'alphabetic';
      ctx.font = 'italic 13px ' + FONT;
      ctx.fillText('i', x, y); x += ctx.measureText('i').width + 1.5;
      ctx.font = '13px ' + FONT;
      ctx.fillText('=', x, y); x += ctx.measureText('=').width + 1;
      const t = String(a);
      ctx.fillText(t, x, y); x += ctx.measureText(t).width + 1;
      ctx.font = '9px ' + FONT;
      ctx.fillText('∘', x, y - 5);
    });
    ctx.restore();
  },
  afterDraw(chart) {
    const ctx = chart.ctx, ca = chart.chartArea;
    ctx.save();
    // y-axis titles with subscripts
    panelIds.forEach((id, k) => {
      const s = chart.scales[id];
      const cy = (s.top + s.bottom) / 2;
      ctx.save();
      ctx.translate(48, cy);
      ctx.rotate(-Math.PI / 2);
      ctx.fillStyle = '#000'; ctx.textAlign = 'left'; ctx.textBaseline = 'alphabetic';
      ctx.font = '12px ' + FONT;
      const w1 = ctx.measureText(yTitleMain[k]).width;
      ctx.font = '8.5px ' + FONT;
      const w2 = ctx.measureText(yTitleSub).width;
      const x0 = -(w1 + w2) / 2;
      ctx.font = '12px ' + FONT;
      ctx.fillText(yTitleMain[k], x0, 0);
      ctx.font = '8.5px ' + FONT;
      ctx.fillText(yTitleSub, x0 + w1 + 0.5, 3);
      ctx.restore();
    });
    // legend
    const lx = ca.left + 26, ly = ca.top + 5, lw = 40, lh = 41;
    ctx.beginPath();
    ctx.roundRect(lx, ly, lw, lh, 3);
    ctx.fillStyle = 'rgba(255,255,255,0.8)';
    ctx.fill();
    ctx.strokeStyle = '#cccccc'; ctx.lineWidth = 1;
    ctx.stroke();
    const rows = [ly + 7.5, ly + 19.5, ly + 32];
    const mx = lx + 13.5;
    seriesNames.forEach((nm, j) => {
      const yy = rows[j];
      ctx.fillStyle = colors[j];
      ctx.beginPath();
      if (j === 0) {
        ctx.arc(mx, yy, 1.5, 0, Math.PI * 2);
      } else if (j === 1) {
        ctx.rect(mx - 2.7, yy - 2.7, 5.4, 5.4);
      } else {
        const r = 3.9;
        ctx.moveTo(mx, yy + r);
        ctx.lineTo(mx - r * 0.866, yy - r * 0.5);
        ctx.lineTo(mx + r * 0.866, yy - r * 0.5);
        ctx.closePath();
      }
      ctx.fill();
      ctx.fillStyle = '#000';
      ctx.font = '12px ' + FONT;
      ctx.textAlign = 'left'; ctx.textBaseline = 'middle';
      ctx.fillText(nm, lx + 26.5, yy + 0.5);
    });
    ctx.restore();
  }
};

new Chart(document.getElementById('c'), {
  type: 'scatter',
  data: {datasets},
  options: {
    responsive: false,
    animation: false,
    events: [],
    layout: {padding: {left: 0, right: 692 - PLOT_RIGHT, top: PLOT_TOP, bottom: 12}},
    plugins: {legend: {display: false}, tooltip: {enabled: false}, title: {display: false}},
    scales
  },
  plugins: [decorPlugin]
});
</script>
</body>
</html>
